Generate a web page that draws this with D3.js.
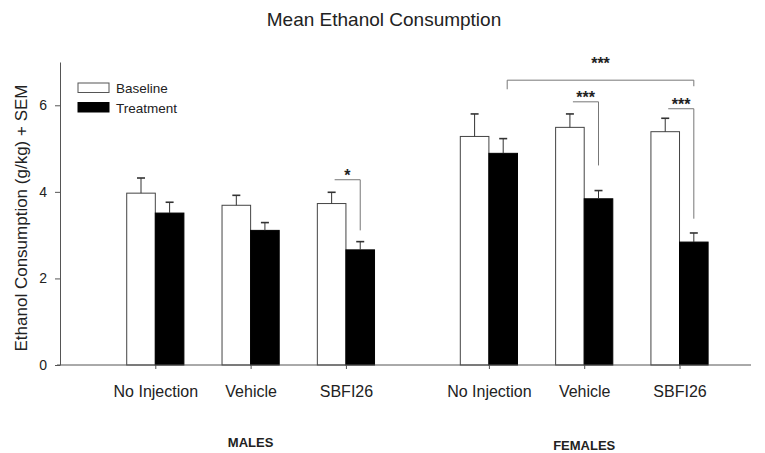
<!DOCTYPE html>
<html>
<head>
<meta charset="utf-8">
<script src="https://cdn.jsdelivr.net/npm/d3@7"></script>
<style>
  body { margin: 0; background: #fff; }
  text { font-family: "Liberation Sans", Arial, sans-serif; fill: #222; }
</style>
</head>
<body>
<svg id="chart" width="765" height="453"></svg>
<script>
// categories, placed on a numeric x position (gap between sexes)
var categories = ["No Injection", "Vehicle", "SBFI26", "No Injection", "Vehicle", "SBFI26"];
var catPos = [1, 2, 3, 4.5, 5.5, 6.5];
var groups = ["MALES", "FEMALES"];
var groupPos = [2, 5.5];

// mean ethanol consumption (g/kg) and SEM
var baseline = [3.97, 3.69, 3.73, 5.28, 5.49, 5.39];
var baselineSem = [0.35, 0.23, 0.26, 0.52, 0.31, 0.31];
var treatment = [3.51, 3.11, 2.66, 4.89, 3.84, 2.84];
var treatmentSem = [0.25, 0.18, 0.19, 0.34, 0.19, 0.21];

// significance brackets: categories, bracket level, drop ends, label
var sigFrom = [2, 4, 5, 3];
var sigTo = [2, 4, 5, 5];
var sigLevel = [4.28, 6.08, 5.92, 6.58];
var sigDropLeft = [null, null, null, 6.37];
var sigDropRight = [3.11, 4.61, 3.38, 6.44];
var sigLabel = ["*", "***", "***", "***"];

var svg = d3.select("#chart");
var margin = {left: 60, top: 62, bottom: 365};
var barW = 0.3;

var x = d3.scaleLinear().domain([0, 7.25]).range([margin.left, 751]);
var y = d3.scaleLinear().domain([0, 7]).range([margin.bottom, margin.top]);

// title
svg.append("text")
  .attr("x", 384).attr("y", 26)
  .attr("text-anchor", "middle")
  .style("font-size", "19px")
  .text("Mean Ethanol Consumption");

// y axis
var yAxis = svg.append("g")
  .attr("transform", "translate(" + margin.left + ",0)")
  .call(d3.axisLeft(y).tickValues([0, 2, 4, 6]).tickFormat(d3.format("d"))
    .tickSize(5).tickSizeOuter(0).tickPadding(8));
yAxis.selectAll("text").style("font-size", "14px").style("font-family", "Liberation Sans, Arial, sans-serif").attr("fill", "#222");
yAxis.selectAll("line, path").attr("stroke", "#555");

svg.append("text")
  .attr("transform", "translate(27," + 218 + ")rotate(-90)")
  .attr("text-anchor", "middle")
  .style("font-size", "17px")
  .text("Ethanol Consumption (g/kg) + SEM");

// bars
function drawSeries(values, sems, offset, fill) {
  var g = svg.append("g");
  g.selectAll("rect").data(values).enter().append("rect")
    .attr("x", function (d, i) { return x(catPos[i] + offset); })
    .attr("y", function (d) { return y(d); })
    .attr("width", x(barW) - x(0))
    .attr("height", function (d) { return y(0) - y(d); })
    .attr("fill", fill)
    .attr("stroke", fill === "#000" ? "#000" : "#444")
    .attr("stroke-width", 1);
  var cx = function (i) { return x(catPos[i] + offset + barW / 2); };
  g.selectAll(".err").data(values).enter().append("line")
    .attr("class", "err")
    .attr("x1", function (d, i) { return cx(i); })
    .attr("x2", function (d, i) { return cx(i); })
    .attr("y1", function (d) { return y(d); })
    .attr("y2", function (d, i) { return y(d + sems[i]); })
    .attr("stroke", "#333");
  g.selectAll(".cap").data(values).enter().append("line")
    .attr("class", "cap")
    .attr("x1", function (d, i) { return cx(i) - 4; })
    .attr("x2", function (d, i) { return cx(i) + 4; })
    .attr("y1", function (d, i) { return y(d + sems[i]); })
    .attr("y2", function (d, i) { return y(d + sems[i]); })
    .attr("stroke", "#333").attr("stroke-width", 1.6);
}
drawSeries(baseline, baselineSem, -barW, "#fff");
drawSeries(treatment, treatmentSem, 0, "#000");

// x axis
var xAxis = svg.append("g")
  .attr("transform", "translate(0," + margin.bottom + ")")
  .call(d3.axisBottom(x).tickValues(catPos).tickFormat(function (d, i) { return categories[i]; })
    .tickSize(4).tickSizeOuter(0).tickPadding(17));
xAxis.selectAll("text").style("font-size", "16px").style("font-family", "Liberation Sans, Arial, sans-serif").attr("fill", "#222");
xAxis.selectAll("line, path").attr("stroke", "#555");
xAxis.select("path").attr("d", "M" + (margin.left - 3) + ",0H751");

svg.selectAll(".group").data(groups).enter().append("text")
  .attr("class", "group")
  .attr("x", function (d, i) { return x(groupPos[i]); })
  .attr("y", function (d, i) { return i === 0 ? 447 : 450; })
  .attr("text-anchor", "middle")
  .style("font-size", "13px").style("font-weight", "bold")
  .text(function (d) { return d; });

// significance brackets
sigLabel.forEach(function (lab, k) {
  var wide = sigFrom[k] !== sigTo[k];
  var x1 = wide ? x(catPos[sigFrom[k]] + barW / 2) + 4 : x(catPos[sigFrom[k]] - barW / 2) + 3;
  var x2 = x(catPos[sigTo[k]] + barW / 2);
  var yl = y(sigLevel[k]);
  var d = "";
  if (sigDropLeft[k] !== null) d += "M" + x1 + "," + y(sigDropLeft[k]) + "V" + yl;
  else d += "M" + x1 + "," + yl;
  d += "H" + x2 + "V" + y(sigDropRight[k]);
  svg.append("path").attr("d", d).attr("fill", "none").attr("stroke", "#777").attr("stroke-width", 1);
  svg.append("text")
    .attr("x", (x1 + x2) / 2)
    .attr("y", wide ? yl - 11 : yl + 1)
    .attr("text-anchor", "middle")
    .style("font-size", "16px").style("font-weight", "bold")
    .text(lab);
});

// legend
var legendLabels = ["Baseline", "Treatment"];
var legendFill = ["#fff", "#000"];
var lg = svg.append("g").attr("transform", "translate(78,83)");
lg.selectAll("rect").data(legendLabels).enter().append("rect")
  .attr("x", 0).attr("y", function (d, i) { return i * 19.5; })
  .attr("width", 31).attr("height", 9.5)
  .attr("fill", function (d, i) { return legendFill[i]; })
  .attr("stroke", function (d, i) { return i ? "#000" : "#555"; });
lg.selectAll("text").data(legendLabels).enter().append("text")
  .attr("x", 38).attr("y", function (d, i) { return 10 + i * 19.5; })
  .style("font-size", "13.5px")
  .text(function (d) { return d; });
</script>
</body>
</html>
